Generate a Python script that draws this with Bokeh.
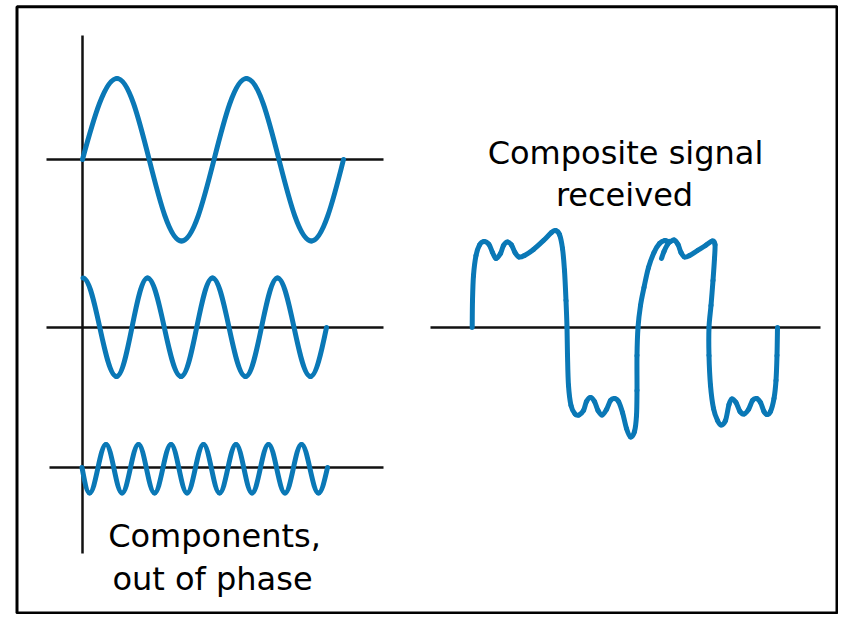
from bokeh.plotting import figure
from bokeh.models import Range1d, ColumnDataSource
from bokeh.embed import file_html
from bokeh.resources import INLINE
from bokeh.core.properties import value

# ---------------- data (diagram units, y grows downward) -------------
# baselines of the three component waves
comp_axis_y = [159, 327, 467]
comp_axis_x0 = [46, 46, 49]
comp_axis_x1 = [383, 383, 383]
# vertical (time origin) axis of the components
vaxis_x = [82, 82]
vaxis_y = [35, 553]
# composite baseline
composite_axis_x = [430, 820]
composite_axis_y = [327, 327]

# component 1: key points (start, extrema, end)
wave1_x = [82, 116.5, 181, 246, 311, 343]
wave1_y = [159, 78, 240.5, 78, 240.5, 159]
# component 2
wave2_x = [82.5, 116, 147, 180.5, 212, 245, 277, 310, 326]
wave2_y = [277.5, 376, 277.5, 376, 277.5, 376, 277.5, 376, 327]
# component 3
wave3_x = [81.5, 89, 105.5, 121.5, 138, 154, 170.5, 186.5, 203, 219, 235.5,
           251.5, 268, 284.5, 301, 318, 327]
wave3_y = [467, 492.5, 444, 492.5, 444, 492.5, 444, 492.5, 444, 492.5, 444,
           492.5, 444, 492.5, 444, 492.5, 467]

# composite signal
composite_x = [471.7, 472.0, 473.0, 475.5, 479.0, 483.5, 488.5, 492.0, 495.5, 500.0,
               503.0, 507.0, 511.0, 514.5, 518.5, 524.0, 533.0, 543.0, 551.0, 555.0,
               559.0, 562.0, 564.0, 565.5, 566.5, 567.0, 568.0, 570.5, 574.5, 578.5,
               583.0, 586.0, 590.0, 594.0, 597.5, 601.5, 606.0, 610.0, 614.0, 618.0,
               622.0, 626.0, 630.0, 634.0, 636.0, 636.5, 636.5, 637.5, 640.0, 643.5,
               648.0, 653.5, 659.0, 664.5, 669.0, 673.5, 677.5, 680.5, 684.0, 689.0,
               697.0, 705.0, 712.0, 714.5, 714.0, 712.5, 710.5, 708.5, 708.5, 710.0,
               713.0, 717.0, 720.5, 725.0, 728.5, 731.5, 735.5, 739.5, 743.5, 748.0,
               752.0, 756.0, 760.0, 763.5, 766.5, 770.0, 773.5, 775.5, 776.5, 777.0]
composite_y = [327.0, 300.0, 275.0, 255.0, 244.5, 241.0, 244.0, 252.0, 258.0, 253.0,
               245.0, 241.5, 244.5, 252.0, 256.5, 255.0, 249.0, 240.0, 232.0, 230.0,
               234.0, 248.0, 270.0, 300.0, 327.0, 355.0, 385.0, 405.0, 413.5, 414.5,
               410.0, 401.0, 397.0, 401.0, 410.0, 414.5, 409.0, 400.0, 398.0, 401.0,
               412.0, 428.0, 436.5, 431.0, 415.0, 390.0, 355.0, 327.0, 305.0, 287.0,
               267.0, 252.0, 243.0, 240.0, 241.5, 239.5, 244.0, 252.0, 256.5, 255.0,
               250.0, 245.0, 240.5, 244.0, 258.0, 280.0, 305.0, 327.0, 355.0, 385.0,
               408.0, 420.0, 424.5, 420.0, 404.0, 398.5, 402.0, 411.0, 413.5, 409.0,
               400.0, 398.0, 402.0, 411.0, 414.0, 411.0, 398.0, 380.0, 355.0, 327.0]
# small pen hook on the second positive pulse
hook_x = [661.0, 663.5, 667.0, 669.5]
hook_y = [258.0, 251.0, 244.0, 241.0]

label_left = ["Components,", "out of phase"]
label_right = ["Composite signal", "received"]

BLUE = "#0a78b6"
INK = "#111111"


def sine_segments(xs, ys, base):
    amp = max(abs(y - base) for y in ys)
    zero = [abs(y - base) < 0.3 * amp for y in ys]
    d = dict(x0=[], y0=[], x1=[], y1=[], cx0=[], cy0=[], cx1=[], cy1=[])
    for i in range(len(xs) - 1):
        x0, y0, x1, y1 = xs[i], ys[i], xs[i + 1], ys[i + 1]
        dx, dy = x1 - x0, y1 - y0
        if zero[i]:
            c0 = (x0 + 0.326 * dx, y0 + 0.512 * dy)
        else:
            k = 0.346 if zero[i + 1] else 0.3634
            c0 = (x0 + k * dx, y0)
        if zero[i + 1]:
            c1 = (x1 - 0.326 * dx, y1 - 0.512 * dy)
        else:
            k = 0.346 if zero[i] else 0.3634
            c1 = (x1 - k * dx, y1)
        for key, v in zip(["x0", "y0", "x1", "y1", "cx0", "cy0", "cx1", "cy1"],
                          [x0, y0, x1, y1, c0[0], c0[1], c1[0], c1[1]]):
            d[key].append(v)
    return ColumnDataSource(d)


def spline_segments(xs, ys):
    n = len(xs)
    d = dict(x0=[], y0=[], x1=[], y1=[], cx0=[], cy0=[], cx1=[], cy1=[])
    for i in range(n - 1):
        a = max(i - 1, 0)
        b = min(i + 2, n - 1)
        cx0 = xs[i] + (xs[i + 1] - xs[a]) / 6.0
        cy0 = ys[i] + (ys[i + 1] - ys[a]) / 6.0
        cx1 = xs[i + 1] - (xs[b] - xs[i]) / 6.0
        cy1 = ys[i + 1] - (ys[b] - ys[i]) / 6.0
        for key, v in zip(["x0", "y0", "x1", "y1", "cx0", "cy0", "cx1", "cy1"],
                          [xs[i], ys[i], xs[i + 1], ys[i + 1], cx0, cy0, cx1, cy1]):
            d[key].append(v)
    return ColumnDataSource(d)


p = figure(width=838, height=614, x_range=Range1d(0, 838), y_range=Range1d(614, 0),
           output_backend="svg", toolbar_location=None, x_axis_type=None, y_axis_type=None,
           min_border=0)
p.grid.visible = False
p.outline_line_color = None
p.background_fill_color = "white"

# frame
p.quad(left=[16.5], right=[836.5], top=[6.3], bottom=[612.5], fill_color=None,
       line_color="black", line_width=3)

# axes
p.segment(x0=comp_axis_x0, x1=comp_axis_x1, y0=comp_axis_y, y1=comp_axis_y,
          line_color=INK, line_width=2.5)
p.line(vaxis_x, vaxis_y, line_color=INK, line_width=2.5)
p.line(composite_axis_x, composite_axis_y, line_color=INK, line_width=2.5)

bz = dict(x0="x0", y0="y0", x1="x1", y1="y1", cx0="cx0", cy0="cy0", cx1="cx1", cy1="cy1",
          line_color=BLUE, line_width=5, line_cap="round")
p.bezier(source=sine_segments(wave1_x, wave1_y, comp_axis_y[0]), **bz)
p.bezier(source=sine_segments(wave2_x, wave2_y, comp_axis_y[1]), **bz)
p.bezier(source=sine_segments(wave3_x, wave3_y, comp_axis_y[2]), **bz)
p.bezier(source=spline_segments(composite_x, composite_y), **bz)
p.bezier(source=spline_segments(hook_x, hook_y), **bz)

font = value("DejaVu Sans")
p.text(x=[214, 212], y=[535, 578], text=label_left, text_font=font, text_font_size="32px",
       text_align="center", text_baseline="alphabetic", text_color="black")
p.text(x=[625, 624], y=[152, 194], text=label_right, text_font=font, text_font_size="32px",
       text_align="center", text_baseline="alphabetic", text_color="black")

open("out.html", "w").write(file_html(p, INLINE))
